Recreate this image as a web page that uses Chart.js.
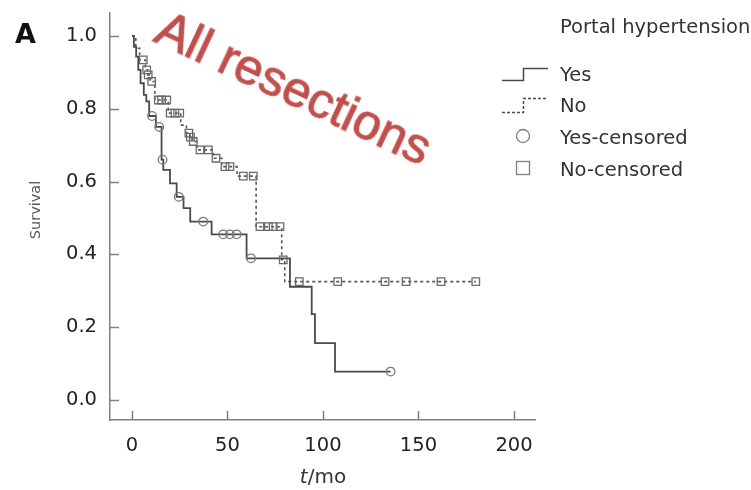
<!DOCTYPE html>
<html>
<head>
<meta charset="utf-8">
<script src="https://cdn.jsdelivr.net/npm/chart.js@4.4.1/dist/chart.umd.min.js"></script>
<style>
html, body { margin: 0; padding: 0; background: #fff; }
#wrap { position: relative; width: 751px; height: 490px; }
#etiqueta {
    position: absolute; left: 294px; top: 88px;
    transform: translate(-50%, -50%) rotate(25deg);
    color: #c0504d; font: 50px "Liberation Sans", Arial, sans-serif;
    -webkit-text-stroke: 1px #c0504d;
    white-space: nowrap;
}
</style>
</head>
<body>
<div id="wrap">
    <canvas id="grafico" width="751" height="490"></canvas>
    <div id="etiqueta">All resections</div>
</div>
<script>
// ejes
var xTicks = [0, 50, 100, 150, 200];
var yTicks = [0, 0.2, 0.4, 0.6, 0.8, 1.0];

// Portal hypertension = Yes (linea continua)
var siTiempo = [0, 1, 2.2, 3.3, 4.5, 6.2, 7.5, 9, 12.5, 15.5, 16.4, 19.9, 23.4, 27, 30.5, 41.7, 60, 82.7, 94.1, 95.8, 106.3, 135.4];
var siSurv = [1.0, 0.97, 0.943, 0.907, 0.87, 0.838, 0.82, 0.78, 0.75, 0.66, 0.632, 0.595, 0.558, 0.527, 0.49, 0.455, 0.389, 0.311, 0.236, 0.156, 0.078, 0.078];
var siCensura = [10.5, 14.3, 16, 24.5, 37.3, 47.8, 51.3, 54.8, 62.3, 135.4];

// Portal hypertension = No (linea punteada)
var noTiempo = [0, 2, 4, 7, 8.2, 9.5, 12, 19, 25.5, 28.5, 30.3, 31.5, 34, 42.5, 47, 55, 65, 78.4, 80, 180];
var noSurv = [1.0, 0.966, 0.934, 0.907, 0.893, 0.875, 0.824, 0.788, 0.755, 0.733, 0.722, 0.71, 0.687, 0.664, 0.641, 0.615, 0.476, 0.385, 0.325, 0.325];
var noCensura = [5.9, 7.7, 8.5, 10.3, 13.8, 15.5, 18.2, 20, 22.5, 25, 29.8, 30.6, 32.1, 35.6, 40, 44, 48.7, 51.3, 58.3, 63.5, 67, 71.4, 73.9, 77.5, 79.2, 87.6, 107.7, 132.5, 143.5, 161.8, 180];

var fuente = '"DejaVu Sans", Verdana, sans-serif';

function curva(tiempo, surv) {
    return tiempo.map(function (t, i) { return { x: t, y: surv[i] }; });
}

// valor de la curva escalonada en el tiempo t
function valorEn(tiempo, surv, t) {
    var v = surv[0];
    for (let i = 0; i < tiempo.length; i++) {
        if (tiempo[i] <= t) v = surv[i];
    }
    return v;
}

function censuras(tiempo, surv, lista) {
    return lista.map(function (t) { return { x: t, y: valorEn(tiempo, surv, t) }; });
}

var extras = {
    id: 'extras',
    afterDraw: function (chart) {
        var ctx = chart.ctx;
        var area = chart.chartArea;
        var xs = chart.scales.x;
        var ys = chart.scales.y;
        ctx.save();
        // marcas hacia dentro
        ctx.strokeStyle = '#808080';
        ctx.lineWidth = 1.5;
        ctx.beginPath();
        yTicks.forEach(function (v) {
            var py = Math.round(ys.getPixelForValue(v)) + 0.5;
            ctx.moveTo(area.left, py);
            ctx.lineTo(area.left + 9, py);
        });
        xTicks.forEach(function (v) {
            var px = Math.round(xs.getPixelForValue(v)) + 0.5;
            ctx.moveTo(px, area.bottom);
            ctx.lineTo(px, area.bottom - 9);
        });
        ctx.stroke();

        // leyenda
        ctx.fillStyle = '#333';
        ctx.font = '19.5px ' + fuente;
        ctx.textBaseline = 'alphabetic';
        ctx.textAlign = 'left';
        ctx.fillText('Portal hypertension', 560, 33);
        ctx.fillText('Yes', 560, 81);
        ctx.fillText('No', 560, 112);
        ctx.fillText('Yes-censored', 560, 144);
        ctx.fillText('No-censored', 560, 176);

        ctx.strokeStyle = '#4a4a4a';
        ctx.lineWidth = 1.5;
        ctx.beginPath();
        ctx.moveTo(502, 80.5); ctx.lineTo(523.5, 80.5); ctx.lineTo(523.5, 68.5); ctx.lineTo(548, 68.5);
        ctx.stroke();
        ctx.setLineDash([3, 2]);
        ctx.beginPath();
        ctx.moveTo(502, 112.5); ctx.lineTo(523.5, 112.5); ctx.lineTo(523.5, 98.5); ctx.lineTo(548, 98.5);
        ctx.stroke();
        ctx.setLineDash([]);
        ctx.strokeStyle = '#808080';
        ctx.lineWidth = 1.3;
        ctx.beginPath();
        ctx.arc(523, 136, 6.5, 0, Math.PI * 2);
        ctx.stroke();
        ctx.strokeRect(516.5, 161.5, 13, 13);

        // letra del panel
        ctx.fillStyle = '#111';
        ctx.font = 'bold 27px ' + fuente;
        ctx.fillText('A', 15, 43);

        // titulos de ejes
        ctx.fillStyle = '#555';
        ctx.font = '14.5px ' + fuente;
        ctx.save();
        ctx.translate(40, 210);
        ctx.rotate(-Math.PI / 2);
        ctx.textAlign = 'center';
        ctx.fillText('Survival', 0, 0);
        ctx.restore();

        ctx.fillStyle = '#333';
        ctx.font = 'italic 20px ' + fuente;
        var anchoT = ctx.measureText('t').width;
        ctx.font = '20px ' + fuente;
        var anchoResto = ctx.measureText('/mo').width;
        var x0 = xs.getPixelForValue(100) - (anchoT + anchoResto) / 2;
        ctx.font = 'italic 20px ' + fuente;
        ctx.fillText('t', x0, 483);
        ctx.font = '20px ' + fuente;
        ctx.fillText('/mo', x0 + anchoT, 483);
        ctx.restore();
    }
};

var ctx = document.getElementById('grafico').getContext('2d');
var grafico = new Chart(ctx, {
    type: 'scatter',
    data: {
        datasets: [{
            label: 'Yes-censored',
            data: censuras(siTiempo, siSurv, siCensura),
            pointStyle: 'circle',
            pointRadius: 4.3,
            borderColor: '#7a7a7a',
            backgroundColor: 'rgba(255,255,255,0)',
            borderWidth: 1.3,
            showLine: false
        }, {
            label: 'No-censored',
            data: censuras(noTiempo, noSurv, noCensura),
            pointStyle: 'rect',
            pointRadius: 5.3,
            borderColor: '#6a6a6a',
            backgroundColor: 'rgba(255,255,255,0)',
            borderWidth: 1.3,
            showLine: false
        }, {
            label: 'Yes',
            data: curva(siTiempo, siSurv),
            showLine: true,
            stepped: true,
            borderColor: '#4a4a4a',
            borderWidth: 1.8,
            pointRadius: 0
        }, {
            label: 'No',
            data: curva(noTiempo, noSurv),
            showLine: true,
            stepped: true,
            borderColor: '#555',
            borderWidth: 1.6,
            borderDash: [3, 3],
            pointRadius: 0
        }]
    },
    options: {
        responsive: false,
        animation: false,
        devicePixelRatio: 1,
        layout: { padding: { left: 0, top: 13, right: 216, bottom: 0 } },
        plugins: { legend: { display: false }, tooltip: { enabled: false } },
        scales: {
            x: {
                type: 'linear',
                min: -11.5,
                max: 211,
                afterBuildTicks: function (s) { s.ticks = xTicks.map(function (v) { return { value: v }; }); },
                afterFit: function (s) { s.height = 70; s.paddingLeft = 0; s.paddingRight = 0; },
                grid: { display: false, drawTicks: false },
                border: { display: true, color: '#808080', width: 1.5 },
                ticks: {
                    autoSkip: false, maxRotation: 0, padding: 14, color: '#222',
                    font: { family: fuente, size: 19.5 }
                }
            },
            y: {
                type: 'linear',
                min: -0.055,
                max: 1.063,
                afterBuildTicks: function (s) { s.ticks = yTicks.map(function (v) { return { value: v }; }); },
                afterFit: function (s) { s.width = 110; s.paddingTop = 0; s.paddingBottom = 0; },
                grid: { display: false, drawTicks: false },
                border: { display: true, color: '#808080', width: 1.5 },
                ticks: {
                    autoSkip: false, padding: 13, color: '#222',
                    font: { family: fuente, size: 19.5 },
                    callback: function (v) { return Number(v).toFixed(1); }
                }
            }
        }
    },
    plugins: [extras]
});
</script>
</body>
</html>
